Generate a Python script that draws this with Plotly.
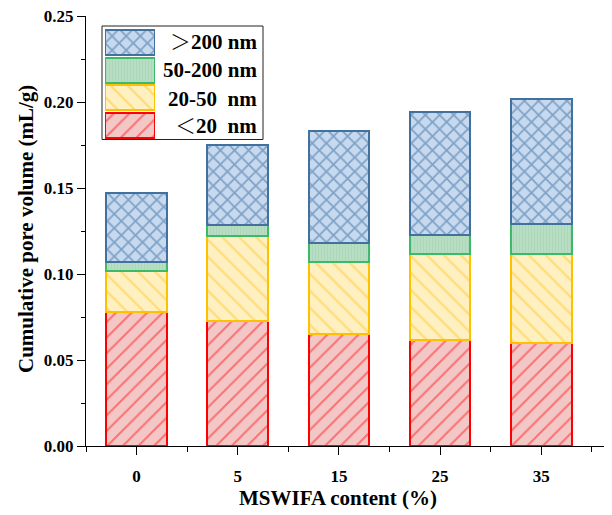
import plotly.graph_objects as go

# ---------------- data ----------------
categories = ["0", "5", "15", "25", "35"]
series_names = ["<20 nm", "20-50 nm", "50-200 nm", ">200 nm"]
legend_labels = ["＜20\u00a0\u00a0nm", "20-50\u00a0\u00a0nm", "50-200 nm", "＞200 nm"]
lt20 = [0.0778, 0.0727, 0.0651, 0.0614, 0.0597]
p20_50 = [0.0242, 0.0494, 0.0420, 0.0506, 0.0523]
p50_200 = [0.0052, 0.0064, 0.0111, 0.0105, 0.0174]
gt200 = [0.0398, 0.0469, 0.0651, 0.0717, 0.0725]
y_ticks = [0.00, 0.05, 0.10, 0.15, 0.20, 0.25]

series_values = [lt20, p20_50, p50_200, gt200]

# ---------------- styles ----------------
FONT = "Liberation Serif, Times New Roman, Noto Serif CJK SC, Noto Sans CJK SC, serif"
styles = [
    dict(fill="#f4c7c7", fg="#ff1a1a", line="#ff0000", shape="/", size=11, solidity=0.18),
    dict(fill="#fff0c1", fg="#ffc626", line="#ffc000", shape="\\", size=12, solidity=0.18),
    dict(fill="#b7ddc2", fg="#a2d2b0", line="#3cba6a", shape="|", size=3, solidity=0.35),
    dict(fill="#c6d9ef", fg="#3a6aa0", line="#41719c", shape="x", size=10, solidity=0.33),
]

# the page body has an 8px margin, so the figure is drawn 8px in from the corner
OFF = 8
W, H = 612 - OFF, 515 - OFF
ML, MR, MT, MB = 86 - OFF, 0, 16 - OFF, 69
PW, PH = W - ML - MR, H - MT - MB


def px_x(px):
    return (px - OFF - ML) / PW


def px_y(py):
    return (H - MB - (py - OFF)) / PH


x_pos = list(range(len(categories)))

fig = go.Figure()
for name, vals, st in zip(series_names, series_values, styles):
    fig.add_trace(go.Bar(
        x=x_pos, y=vals, name=name, width=0.6,
        marker=dict(
            color=st["fill"],
            line=dict(color=st["line"], width=2),
            pattern=dict(shape=st["shape"], fgcolor=st["fg"], size=st["size"],
                         solidity=st["solidity"], fillmode="overlay"),
        ),
        showlegend=False,
    ))

# ---------------- custom legend (inset axes for patterned swatches) ----------------
leg_rows = list(range(len(series_names)))  # row 0 at bottom
for row, st in zip(leg_rows, styles):
    fig.add_trace(go.Bar(
        x=[1], y=[row], orientation="h", width=0.9,
        xaxis="x2", yaxis="y2",
        marker=dict(
            color=st["fill"],
            line=dict(color=st["line"], width=2),
            pattern=dict(shape=st["shape"], fgcolor=st["fg"], size=st["size"],
                         solidity=st["solidity"], fillmode="overlay"),
        ),
        showlegend=False, hoverinfo="skip",
    ))

row_centers_px = [126, 98.5, 70.5, 42.5]
for lab, cy in zip(legend_labels, row_centers_px):
    fig.add_annotation(
        x=px_x(259), y=px_y(cy), xref="paper", yref="paper",
        text=f"<b>{lab}</b>", showarrow=False, xanchor="right", yanchor="middle",
        font=dict(family=FONT, size=21, color="black"),
    )

fig.add_shape(type="rect", xref="paper", yref="paper",
              x0=px_x(102), x1=px_x(263), y0=px_y(139.5), y1=px_y(26),
              line=dict(color="#222222", width=1), layer="above")

# ---------------- axis titles ----------------
fig.add_annotation(
    x=px_x(338), y=px_y(498), xref="paper", yref="paper",
    text="<b>MSWIFA content (%)</b>", showarrow=False,
    xanchor="center", yanchor="middle",
    font=dict(family=FONT, size=21, color="black"),
)
fig.add_annotation(
    x=px_x(26), y=px_y(229), xref="paper", yref="paper",
    text="<b>Cumulative pore volume (mL/g)</b>", showarrow=False, textangle=-90,
    xanchor="center", yanchor="middle",
    font=dict(family=FONT, size=21, color="black"),
)

fig.update_layout(
    width=W, height=H,
    margin=dict(l=ML, r=MR, t=MT, b=MB),
    barmode="stack",
    plot_bgcolor="white", paper_bgcolor="white",
    showlegend=False,
    font=dict(family=FONT, color="black"),
    xaxis=dict(
        range=[-0.5, 4.70],
        tickmode="array", tickvals=x_pos, ticktext=[f"<b>{c}</b>" for c in categories],
        ticks="outside", ticklen=8, tickwidth=1.3, tickcolor="black",
        ticklabelstandoff=6,
        minor=dict(tickmode="array", tickvals=[p - 0.5 for p in x_pos] + [x_pos[-1] + 0.5],
                   ticks="outside", ticklen=5, tickwidth=1.3, tickcolor="black"),
        showline=True, linecolor="black", linewidth=1.3,
        showgrid=False, zeroline=False, automargin=False,
        tickfont=dict(family=FONT, size=17, color="black"),
    ),
    yaxis=dict(
        range=[0, 0.2502],
        tickmode="array", tickvals=y_ticks, ticktext=[f"<b>{v:.2f}</b>" for v in y_ticks],
        ticks="outside", ticklen=8, tickwidth=1.3, tickcolor="black",
        ticklabeloverflow="allow",
        minor=dict(dtick=0.025, tick0=0, ticks="outside", ticklen=4, tickwidth=1.3, tickcolor="black"),
        showline=True, linecolor="black", linewidth=1.3,
        showgrid=False, zeroline=False, automargin=False,
        tickfont=dict(family=FONT, size=17, color="black"),
    ),
    xaxis2=dict(domain=[px_x(105), px_x(155)], range=[0, 1], anchor="y2",
                visible=False, fixedrange=True),
    yaxis2=dict(domain=[px_y(139), px_y(29)], range=[-0.5, 3.5], anchor="x2",
                visible=False, fixedrange=True),
)

fig.write_html("out.html")
